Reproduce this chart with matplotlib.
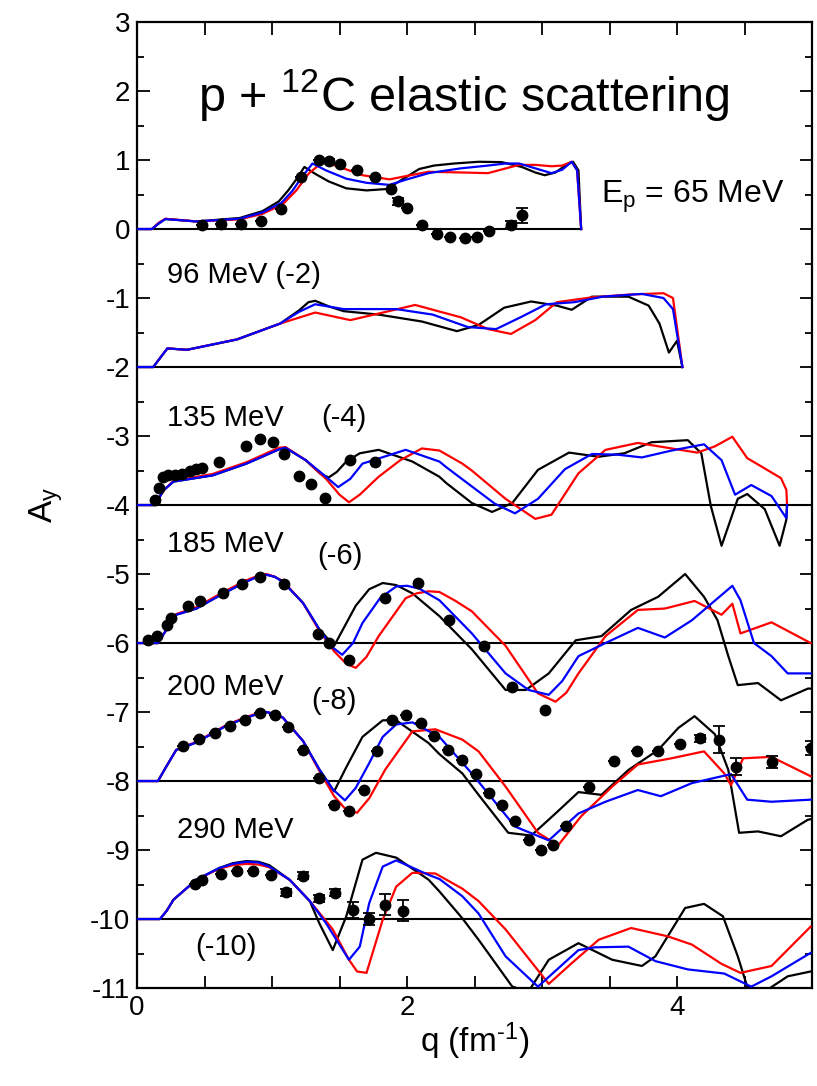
import matplotlib
matplotlib.use("Agg")
import matplotlib.pyplot as plt
from matplotlib.ticker import MultipleLocator, FixedLocator

plt.rcParams['font.family'] = ['Liberation Sans', 'DejaVu Sans']
plt.rcParams['mathtext.fontset'] = 'custom'
plt.rcParams['mathtext.rm'] = 'Liberation Sans'
plt.rcParams['mathtext.default'] = 'regular'
plt.rcParams['axes.unicode_minus'] = False

# ---- 65 MeV (offset 0) ----
q65_k = [0, 0.11, 0.16, 0.21, 0.44, 0.76, 0.93, 1.05, 1.12, 1.18, 1.24, 1.32, 1.42, 1.55, 1.70, 1.85, 2.0, 2.09,
         2.2, 2.35, 2.53, 2.70, 2.85, 2.95, 3.02, 3.10, 3.18, 3.23, 3.27, 3.29]
y65_k = [0, 0, 0.08, 0.145, 0.11, 0.16, 0.26, 0.40, 0.56, 0.72, 0.90, 0.80, 0.69, 0.59, 0.56, 0.58, 0.76, 0.87,
         0.92, 0.95, 0.975, 0.97, 0.90, 0.82, 0.78, 0.82, 0.93, 0.975, 0.85, 0.0]
q65_b = [0, 0.11, 0.16, 0.21, 0.44, 0.76, 0.93, 1.07, 1.15, 1.22, 1.30, 1.40, 1.55, 1.70, 1.87, 2.0, 2.16, 2.4,
         2.6, 2.73, 2.83, 2.95, 3.07, 3.15, 3.22, 3.26, 3.29]
y65_b = [0, 0, 0.08, 0.145, 0.11, 0.15, 0.24, 0.38, 0.55, 0.75, 0.95, 0.85, 0.73, 0.67, 0.64, 0.72, 0.81, 0.88,
         0.92, 0.95, 0.95, 0.88, 0.81, 0.86, 0.975, 0.85, 0.0]
q65_r = [0, 0.11, 0.16, 0.21, 0.44, 0.76, 0.93, 1.08, 1.18, 1.27, 1.375, 1.5, 1.67, 1.87, 2.0, 2.16, 2.4, 2.6,
         2.83, 2.95, 3.07, 3.15, 3.22, 3.26, 3.29]
y65_r = [0, 0, 0.09, 0.15, 0.11, 0.14, 0.22, 0.36, 0.56, 0.80, 0.975, 0.90, 0.78, 0.72, 0.77, 0.83, 0.82, 0.81,
         0.93, 0.93, 0.91, 0.92, 0.975, 0.85, 0.0]
q65_d = [0.48, 0.62, 0.77, 0.92, 1.07, 1.215, 1.35, 1.42, 1.50, 1.63, 1.76, 1.88, 1.93, 2.00, 2.11, 2.22, 2.32,
         2.43, 2.52, 2.61, 2.77, 2.85]
y65_d = [0.06, 0.07, 0.08, 0.11, 0.29, 0.76, 1.0, 0.99, 0.94, 0.855, 0.76, 0.575, 0.40, 0.30, 0.06, -0.07, -0.11,
         -0.13, -0.11, -0.03, 0.06, 0.20]
e65_d = [0, 0, 0, 0, 0, 0, 0, 0.03, 0, 0, 0, 0, 0.05, 0, 0, 0, 0, 0, 0, 0, 0.05, 0.11]

# ---- 96 MeV (offset -2) ----
q96_k = [0, 0.12, 0.225, 0.37, 0.74, 1.06, 1.20, 1.27, 1.32, 1.42, 1.53, 1.79, 2.11, 2.37, 2.53, 2.72, 2.92,
         3.11, 3.22, 3.37, 3.64, 3.79, 3.87, 3.94, 4.0, 4.04]
y96_k = [-2, -2, -1.73, -1.75, -1.60, -1.37, -1.18, -1.06, -1.04, -1.12, -1.19, -1.24, -1.34, -1.48, -1.39,
         -1.14, -1.05, -1.11, -1.17, -0.98, -0.98, -1.11, -1.37, -1.79, -1.62, -2.0]
q96_b = [0, 0.12, 0.225, 0.37, 0.74, 1.06, 1.20, 1.32, 1.53, 1.92, 2.19, 2.45, 2.66, 2.85, 3.03, 3.24, 3.45,
         3.74, 3.90, 3.97, 4.04]
y96_b = [-2, -2, -1.73, -1.75, -1.60, -1.37, -1.2, -1.09, -1.16, -1.16, -1.24, -1.42, -1.45, -1.27, -1.09, -1.06,
         -0.98, -0.94, -1.0, -1.16, -2.0]
q96_r = [0, 0.12, 0.225, 0.37, 0.74, 1.06, 1.32, 1.58, 1.8, 2.06, 2.4, 2.6, 2.77, 2.95, 3.11, 3.37, 3.64, 3.90,
         3.97, 4.04]
y96_r = [-2, -2, -1.73, -1.75, -1.60, -1.37, -1.21, -1.32, -1.22, -1.10, -1.28, -1.45, -1.52, -1.32, -1.06, -0.99,
         -0.95, -0.93, -1.0, -2.0]

# ---- 135 MeV (offset -4) ----
q135_k = [0, 0.13, 0.2, 0.27, 0.56, 0.81, 1.055, 1.10, 1.25, 1.36, 1.42, 1.48, 1.55, 1.65, 1.79, 2.04, 2.24,
          2.29, 2.48, 2.63, 2.78, 2.97, 3.20, 3.42, 3.61, 3.81, 4.08, 4.18, 4.25, 4.33, 4.45, 4.52, 4.65, 4.76,
          4.81, 4.815]
y135_k = [-4, -4, -3.78, -3.66, -3.57, -3.40, -3.19, -3.17, -3.35, -3.55, -3.60, -3.52, -3.37, -3.25, -3.20,
          -3.37, -3.59, -3.68, -3.97, -4.10, -3.97, -3.49, -3.24, -3.30, -3.25, -3.09, -3.06, -3.25, -4.01, -4.59,
          -3.91, -3.84, -4.06, -4.59, -4.21, -4.0]
q135_b = [0, 0.13, 0.2, 0.27, 0.56, 0.81, 1.055, 1.10, 1.25, 1.40, 1.49, 1.58, 1.67, 1.99, 2.24, 2.29, 2.48,
          2.65, 2.80, 2.97, 3.17, 3.37, 3.56, 3.74, 3.96, 4.20, 4.33, 4.43, 4.55, 4.70, 4.81, 4.815]
y135_b = [-4, -4, -3.78, -3.66, -3.57, -3.40, -3.19, -3.17, -3.35, -3.59, -3.74, -3.62, -3.40, -3.20, -3.37,
          -3.45, -3.73, -3.98, -4.12, -3.91, -3.48, -3.26, -3.27, -3.31, -3.21, -3.12, -3.35, -3.85, -3.71, -3.87,
          -4.19, -4.0]
q135_r = [0, 0.13, 0.2, 0.27, 0.56, 0.81, 1.05, 1.10, 1.25, 1.40, 1.50, 1.57, 1.65, 1.79, 1.95, 2.11, 2.24,
          2.41, 2.48, 2.73, 2.95, 3.07, 3.27, 3.47, 3.71, 3.96, 4.15, 4.28, 4.41, 4.52, 4.65, 4.77, 4.81, 4.815]
y135_r = [-4, -4, -3.78, -3.65, -3.55, -3.38, -3.17, -3.16, -3.35, -3.62, -3.85, -3.96, -3.85, -3.59, -3.35,
          -3.18, -3.21, -3.40, -3.50, -3.91, -4.20, -4.14, -3.54, -3.20, -3.10, -3.18, -3.24, -3.15, -3.01, -3.32,
          -3.47, -3.61, -3.78, -4.0]
q135_d = [0.13, 0.16, 0.19, 0.23, 0.28, 0.33, 0.39, 0.44, 0.48, 0.61, 0.81, 0.91, 1.01, 1.09, 1.20, 1.29, 1.39,
          1.58, 1.76]
y135_d = [-3.92, -3.76, -3.60, -3.57, -3.56, -3.55, -3.51, -3.48, -3.46, -3.38, -3.14, -3.04, -3.08, -3.26,
          -3.58, -3.70, -3.90, -3.35, -3.37]

# ---- 185 MeV (offset -6) ----
q185_k = [0, 0.155, 0.22, 0.29, 0.44, 0.64, 0.81, 0.89, 0.96, 1.02, 1.08, 1.23, 1.35, 1.46, 1.54, 1.62, 1.72,
          1.82, 1.92, 2.04, 2.24, 2.48, 2.73, 2.88, 3.05, 3.25, 3.44, 3.66, 3.86, 4.06, 4.20, 4.30, 4.38, 4.45,
          4.60, 4.77, 4.97, 5.0]
y185_k = [-6, -6, -5.8, -5.59, -5.50, -5.28, -5.11, -5.04, -5.01, -5.04, -5.11, -5.42, -5.80, -6.04, -5.75,
          -5.46, -5.22, -5.13, -5.16, -5.28, -5.61, -6.09, -6.68, -6.68, -6.44, -5.96, -5.90, -5.52, -5.33, -5.00,
          -5.33, -5.67, -6.19, -6.61, -6.58, -6.83, -6.66, -6.66]
q185_b = [0, 0.155, 0.22, 0.29, 0.44, 0.64, 0.81, 0.89, 0.96, 1.02, 1.08, 1.23, 1.35, 1.44, 1.52, 1.60, 1.67,
          1.80, 1.92, 2.0, 2.09, 2.24, 2.48, 2.73, 2.90, 3.05, 3.15, 3.27, 3.47, 3.71, 3.91, 4.11, 4.41, 4.47,
          4.57, 4.70, 4.82, 4.99]
y185_b = [-6, -6, -5.8, -5.59, -5.50, -5.28, -5.11, -5.04, -5.01, -5.04, -5.11, -5.42, -5.80, -6.05, -6.17,
          -6.00, -5.71, -5.35, -5.18, -5.17, -5.21, -5.38, -5.86, -6.44, -6.68, -6.75, -6.55, -6.19, -6.0, -5.78,
          -5.92, -5.67, -5.17, -5.38, -6.0, -6.19, -6.44, -6.44]
q185_r = [0, 0.155, 0.22, 0.29, 0.44, 0.64, 0.81, 0.89, 0.96, 1.02, 1.08, 1.23, 1.35, 1.46, 1.55, 1.62, 1.70,
          1.79, 1.99, 2.07, 2.16, 2.24, 2.36, 2.48, 2.73, 2.97, 3.10, 3.18, 3.27, 3.47, 3.71, 3.91, 4.13, 4.33,
          4.41, 4.47, 4.70, 4.99]
y185_r = [-6, -6, -5.8, -5.58, -5.48, -5.26, -5.09, -5.03, -5.0, -5.04, -5.10, -5.42, -5.82, -6.12, -6.30,
          -6.36, -6.20, -5.90, -5.35, -5.28, -5.25, -5.26, -5.39, -5.54, -6.04, -6.73, -6.85, -6.72, -6.44, -5.90,
          -5.52, -5.50, -5.39, -5.59, -5.43, -5.86, -5.70, -6.0]
q185_d = [0.08, 0.15, 0.22, 0.25, 0.38, 0.47, 0.64, 0.78, 0.91, 1.09, 1.34, 1.42, 1.57, 1.84, 2.08, 2.31, 2.57,
          2.78, 3.02]
y185_d = [-5.96, -5.90, -5.74, -5.64, -5.46, -5.39, -5.27, -5.15, -5.04, -5.15, -5.87, -6.0, -6.24, -5.35,
          -5.13, -5.67, -6.04, -6.63, -6.97]

# ---- 200 MeV (offset -8) ----
q200_k = [0, 0.155, 0.22, 0.29, 0.44, 0.66, 0.81, 0.89, 0.96, 1.02, 1.08, 1.23, 1.35, 1.46, 1.55, 1.67, 1.82,
          1.92, 2.16, 2.24, 2.41, 2.53, 2.75, 2.92, 3.10, 3.27, 3.44, 3.64, 3.86, 4.01, 4.13, 4.28, 4.38, 4.46,
          4.60, 4.77, 4.97, 5.0]
y200_k = [-8, -8, -7.78, -7.55, -7.44, -7.20, -7.08, -7.03, -7.0, -7.03, -7.08, -7.42, -7.83, -8.15, -7.80,
          -7.36, -7.12, -7.12, -7.45, -7.61, -7.89, -8.20, -8.75, -8.79, -8.47, -8.16, -8.20, -7.84, -7.55, -7.23,
          -7.06, -7.32, -7.84, -8.75, -8.73, -8.80, -8.56, -8.55]
q200_b = [0, 0.155, 0.22, 0.29, 0.44, 0.66, 0.81, 0.89, 0.96, 1.02, 1.08, 1.23, 1.35, 1.45, 1.54, 1.62, 1.72,
          1.82, 1.92, 2.04, 2.24, 2.48, 2.80, 3.05, 3.27, 3.47, 3.71, 3.88, 4.11, 4.40, 4.52, 4.70, 4.99]
y200_b = [-8, -8, -7.78, -7.55, -7.44, -7.20, -7.08, -7.03, -7.0, -7.03, -7.08, -7.42, -7.83, -8.12, -8.28,
          -8.10, -7.74, -7.36, -7.18, -7.15, -7.36, -7.89, -8.66, -8.86, -8.47, -8.30, -8.13, -8.22, -8.03, -7.90,
          -8.27, -8.30, -8.27]
q200_r = [0, 0.155, 0.22, 0.29, 0.44, 0.66, 0.81, 0.89, 0.96, 1.02, 1.08, 1.23, 1.35, 1.46, 1.55, 1.63, 1.72,
          1.84, 2.04, 2.21, 2.41, 2.53, 2.73, 2.97, 3.12, 3.29, 3.52, 3.71, 3.96, 4.20, 4.35, 4.40, 4.49, 4.70, 4.99]
y200_r = [-8, -8, -7.78, -7.55, -7.43, -7.19, -7.07, -7.02, -7.0, -7.03, -7.08, -7.42, -7.85, -8.22, -8.42,
          -8.46, -8.25, -7.83, -7.28, -7.25, -7.40, -7.57, -8.08, -8.75, -8.93, -8.51, -8.08, -7.76, -7.67, -7.57,
          -7.89, -8.06, -7.67, -7.65, -7.93]
q200_d = [0.34, 0.46, 0.58, 0.69, 0.80, 0.91, 1.02, 1.12, 1.23, 1.35, 1.46, 1.57, 1.68, 1.78, 1.89, 1.99, 2.10,
          2.20, 2.30, 2.41, 2.51, 2.61, 2.70, 2.80, 2.90, 2.99, 3.08, 3.18, 3.35, 3.53, 3.70, 3.86, 4.02, 4.17,
          4.31, 4.44, 4.70, 4.99]
y200_d = [-7.49, -7.39, -7.30, -7.20, -7.12, -7.02, -7.04, -7.22, -7.55, -7.96, -8.35, -8.43, -8.13, -7.57,
          -7.12, -7.04, -7.16, -7.35, -7.55, -7.70, -7.90, -8.17, -8.35, -8.58, -8.86, -9.0, -8.93, -8.65, -8.08,
          -7.71, -7.57, -7.56, -7.46, -7.38, -7.40, -7.79, -7.72, -7.52]
e200_d = [0] * 33 + [0.05, 0.20, 0.12, 0.09, 0.10]

# ---- 290 MeV (offset -10) ----
q290_k = [0, 0.17, 0.22, 0.27, 0.44, 0.61, 0.71, 0.81, 0.90, 0.98, 1.13, 1.28, 1.35, 1.45, 1.55, 1.67, 1.77,
          1.92, 2.16, 2.24, 2.41, 2.53, 2.78, 2.9, 3.05, 3.27, 3.52, 3.74, 3.84, 4.06, 4.20, 4.34, 4.45, 4.52,
          4.65, 4.82, 4.99]
y290_k = [-10, -10, -9.88, -9.72, -9.43, -9.26, -9.19, -9.16, -9.17, -9.22, -9.43, -9.74, -10.06, -10.45,
          -9.96, -9.14, -9.04, -9.11, -9.43, -9.60, -9.99, -10.30, -10.98, -11.05, -10.59, -10.35, -10.59, -10.68,
          -10.54, -9.84, -9.78, -9.96, -10.54, -10.98, -11.05, -10.83, -10.76]
q290_b = [0, 0.17, 0.22, 0.27, 0.44, 0.61, 0.71, 0.81, 0.90, 0.98, 1.13, 1.28, 1.40, 1.57, 1.65, 1.72, 1.82,
          1.92, 2.16, 2.24, 2.41, 2.53, 2.73, 2.97, 3.27, 3.39, 3.64, 3.84, 4.08, 4.35, 4.55, 4.70, 4.99]
y290_b = [-10, -10, -9.88, -9.72, -9.43, -9.26, -9.20, -9.17, -9.18, -9.24, -9.43, -9.74, -10.06, -10.59,
          -10.40, -9.77, -9.24, -9.15, -9.36, -9.42, -9.67, -9.92, -10.54, -10.98, -10.45, -10.41, -10.40, -10.61,
          -10.73, -10.79, -10.98, -10.83, -10.49]
q290_r = [0, 0.17, 0.22, 0.27, 0.44, 0.61, 0.71, 0.81, 0.90, 0.98, 1.13, 1.28, 1.45, 1.57, 1.63, 1.70, 1.82,
          1.92, 2.04, 2.21, 2.41, 2.53, 2.73, 3.05, 3.22, 3.42, 3.66, 3.93, 4.11, 4.33, 4.47, 4.70, 4.99]
y290_r = [-10, -10, -9.88, -9.72, -9.43, -9.27, -9.22, -9.20, -9.21, -9.25, -9.43, -9.74, -10.15, -10.59,
          -10.76, -10.78, -10.01, -9.53, -9.33, -9.34, -9.56, -9.74, -10.15, -10.94, -10.64, -10.30, -10.13,
          -10.25, -10.37, -10.65, -10.78, -10.68, -10.11]
q290_d = [0.43, 0.48, 0.62, 0.74, 0.86, 0.99, 1.10, 1.23, 1.35, 1.47, 1.60, 1.72, 1.84, 1.97]
y290_d = [-9.49, -9.43, -9.35, -9.30, -9.31, -9.36, -9.61, -9.37, -9.70, -9.62, -9.87, -10.0, -9.79, -9.88]
e290_d = [0, 0, 0, 0, 0, 0, 0.05, 0.05, 0.05, 0.05, 0.12, 0.09, 0.15, 0.15]

base_levels = [0, -2, -4, -6, -8, -10]
base_ends = [3.29, 4.04, 5.0, 5.0, 5.0, 5.0]

fig = plt.figure(figsize=(8.17, 10.86), dpi=100)
ax = fig.add_axes([0.1677, 0.0902, 0.8262, 0.8895])

for lev, xe in zip(base_levels, base_ends):
    ax.plot([0, xe], [lev, lev], color="black", lw=1.5, zorder=1)

theory = [
    (q65_k, y65_k, q65_r, y65_r, q65_b, y65_b),
    (q96_k, y96_k, q96_r, y96_r, q96_b, y96_b),
    (q135_k, y135_k, q135_r, y135_r, q135_b, y135_b),
    (q185_k, y185_k, q185_r, y185_r, q185_b, y185_b),
    (q200_k, y200_k, q200_r, y200_r, q200_b, y200_b),
    (q290_k, y290_k, q290_r, y290_r, q290_b, y290_b),
]
for qk, yk, qr, yr, qb, yb in theory:
    ax.plot(qk, yk, color="black", lw=1.6, zorder=2, solid_joinstyle="round")
    ax.plot(qr, yr, color="#ff0000", lw=1.6, zorder=3, solid_joinstyle="round")
    ax.plot(qb, yb, color="#0000ff", lw=1.6, zorder=4, solid_joinstyle="round")

data_sets = [
    (q65_d, y65_d, e65_d),
    (q135_d, y135_d, None),
    (q185_d, y185_d, None),
    (q200_d, y200_d, e200_d),
    (q290_d, y290_d, e290_d),
]
for qd, yd, ed in data_sets:
    ax.errorbar(qd, yd, yerr=ed, fmt="o", color="black", ms=7.5, elinewidth=1.3,
                capsize=4, capthick=1.3, zorder=5, clip_on=True)

ax.set_xlim(0, 5)
ax.set_ylim(-11, 3)
ax.xaxis.set_major_locator(FixedLocator([0, 2, 4]))
ax.xaxis.set_minor_locator(MultipleLocator(0.5))
ax.set_xticklabels(["0", "2", "4"])
ax.yaxis.set_minor_locator(MultipleLocator(0.5))
yt = list(range(-11, 4))
ax.set_yticks(yt)
ax.set_yticklabels([str(v) for v in yt])
ax.tick_params(which="both", direction="in", top=True, right=True, width=1.3, labelsize=20, pad=5)
ax.tick_params(which="major", length=9)
ax.tick_params(which="minor", length=5)
ax.tick_params(axis="x", which="minor", length=9)
for s in ax.spines.values():
    s.set_linewidth(1.6)

ax.set_xlabel(r"q (fm$^{\text{-}1}$)", fontsize=24, labelpad=0)
ax.set_ylabel("A$_y$", fontsize=24, labelpad=18)

ax.text(2.42, 1.94, "p + $^{12}$C elastic scattering", fontsize=35, ha="center", va="center")
ax.text(3.44, 0.46, "E$_p$ = 65 MeV", fontsize=23, ha="left", va="center")
ax.text(0.22, -0.667, "96 MeV (-2)", fontsize=21, ha="left", va="center")
ax.text(0.22, -2.74, "135 MeV", fontsize=21, ha="left", va="center")
ax.text(1.365, -2.74, "(-4)", fontsize=21, ha="left", va="center")
ax.text(0.22, -4.56, "185 MeV", fontsize=21, ha="left", va="center")
ax.text(1.336, -4.74, "(-6)", fontsize=21, ha="left", va="center")
ax.text(0.22, -6.64, "200 MeV", fontsize=21, ha="left", va="center")
ax.text(1.29, -6.84, "(-8)", fontsize=21, ha="left", va="center")
ax.text(0.295, -8.71, "290 MeV", fontsize=21, ha="left", va="center")
ax.text(0.43, -10.40, "(-10)", fontsize=21, ha="left", va="center")

fig.savefig("out.png", dpi=100)
